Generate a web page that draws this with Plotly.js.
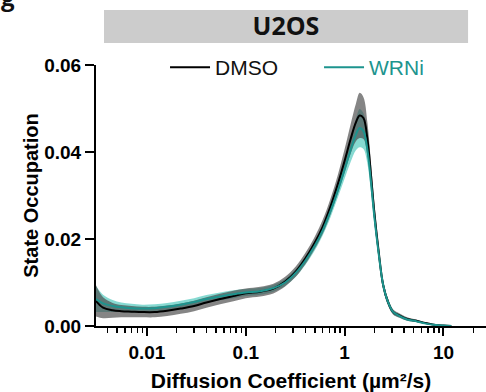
<!DOCTYPE html>
<html>
<head>
<meta charset="utf-8">
<script src="https://cdn.plot.ly/plotly-3.0.1.min.js"></script>
<style>html,body{margin:0;padding:0;background:#fff;}#chart{width:486px;height:392px;}</style>
</head>
<body>
<div id="chart"></div>
<script>
// Diffusion coefficient (µm²/s)
const diffCoef = [0.00305, 0.0036, 0.0045, 0.0055, 0.007, 0.009, 0.012, 0.016, 0.022, 0.03, 0.04, 0.055, 0.075, 0.1, 0.14, 0.19, 0.25, 0.32, 0.4, 0.5, 0.6, 0.72, 0.85, 1.0, 1.15, 1.3, 1.42, 1.55, 1.7, 1.85, 2.0, 2.2, 2.45, 2.75, 3.1, 3.6, 4.3, 5.3, 6.5, 8, 10, 12];
// DMSO mean and error half-width
const dmsoMean = [0.0058, 0.0042, 0.0036, 0.0034, 0.0033, 0.0032, 0.0032, 0.0035, 0.0040, 0.0046, 0.0054, 0.0062, 0.0069, 0.0075, 0.0079, 0.0086, 0.0102, 0.0125, 0.0155, 0.0192, 0.0228, 0.0275, 0.0325, 0.0380, 0.0430, 0.0468, 0.0484, 0.0478, 0.0430, 0.0345, 0.0260, 0.0175, 0.0095, 0.0055, 0.0032, 0.0024, 0.0016, 0.0012, 0.0007, 0.0003, 0.0001, 0.0];
const dmsoErr  = [0.0036, 0.0024, 0.0017, 0.0014, 0.0013, 0.0012, 0.0012, 0.0012, 0.0012, 0.0012, 0.0012, 0.0012, 0.0012, 0.0011, 0.0011, 0.0011, 0.0011, 0.0012, 0.0013, 0.0014, 0.0016, 0.0018, 0.0021, 0.0027, 0.0034, 0.0043, 0.0052, 0.0048, 0.0038, 0.0029, 0.0022, 0.0016, 0.0011, 0.0008, 0.0006, 0.0005, 0.0004, 0.0003, 0.0002, 0.0001, 0.0001, 0.0];
// WRNi mean and error half-width
const wrniMean = [0.0062, 0.0052, 0.0046, 0.0043, 0.0041, 0.0040, 0.0041, 0.0044, 0.0049, 0.0055, 0.0062, 0.0068, 0.0073, 0.0077, 0.0080, 0.0087, 0.0100, 0.0122, 0.0150, 0.0185, 0.0220, 0.0264, 0.0310, 0.0360, 0.0405, 0.0440, 0.0455, 0.0448, 0.0405, 0.0330, 0.0250, 0.0170, 0.0095, 0.0055, 0.0032, 0.0023, 0.0015, 0.0011, 0.0006, 0.0003, 0.0001, 0.0];
const wrniErr  = [0.0030, 0.0020, 0.0014, 0.0011, 0.0010, 0.0009, 0.0009, 0.0009, 0.0009, 0.0009, 0.0009, 0.0009, 0.0009, 0.0008, 0.0008, 0.0008, 0.0008, 0.0009, 0.0010, 0.0011, 0.0012, 0.0014, 0.0016, 0.0021, 0.0028, 0.0036, 0.0044, 0.0041, 0.0032, 0.0024, 0.0018, 0.0013, 0.0009, 0.0007, 0.0005, 0.0004, 0.0003, 0.0002, 0.0002, 0.0001, 0.0001, 0.0];
const seriesNames = ['DMSO', 'WRNi'];
const yTicks = [0, 0.02, 0.04, 0.06];
const yTickText = ['0.00', '0.02', '0.04', '0.06'];
const xTicks = [0.01, 0.1, 1, 10];
const xTickText = ['0.01', '0.1', '1', '10'];

const lower = (m, e) => m.map((v, i) => Math.max(0, v - e[i]));
const upper = (m, e) => m.map((v, i) => v + e[i]);

const TEAL = '#1d948e';
const traces = [
  {x: diffCoef, y: lower(wrniMean, wrniErr), mode: 'lines', line: {width: 0, shape: 'spline'}, showlegend: false, hoverinfo: 'skip'},
  {x: diffCoef, y: upper(wrniMean, wrniErr), mode: 'lines', line: {width: 0, shape: 'spline'}, fill: 'tonexty', fillcolor: 'rgba(95,205,195,0.75)', showlegend: false, hoverinfo: 'skip'},
  {x: diffCoef, y: lower(dmsoMean, dmsoErr), mode: 'lines', line: {width: 0, shape: 'spline'}, showlegend: false, hoverinfo: 'skip'},
  {x: diffCoef, y: upper(dmsoMean, dmsoErr), mode: 'lines', line: {width: 0, shape: 'spline'}, fill: 'tonexty', fillcolor: 'rgba(70,70,70,0.66)', showlegend: false, hoverinfo: 'skip'},
  {x: diffCoef, y: dmsoMean, mode: 'lines', name: seriesNames[0], line: {color: '#000', width: 2, shape: 'spline'}},
  {x: diffCoef, y: wrniMean, mode: 'lines', name: '<span style="color:' + TEAL + '">' + seriesNames[1] + '</span>', line: {color: TEAL, width: 2, shape: 'spline'}}
];

const layout = {
  width: 486, height: 392,
  margin: {l: 96, r: 0, t: 65, b: 66},
  paper_bgcolor: '#fff', plot_bgcolor: '#fff',
  font: {family: 'Liberation Sans, Arial, sans-serif', color: '#000'},
  title: {text: '<b>U2OS</b>', font: {family: 'Open Sans', size: 25, color: '#111'}, xref: 'paper', x: 0.487, xanchor: 'center', yref: 'container', y: 0.934, yanchor: 'middle'},
  showlegend: true,
  legend: {orientation: 'h', x: 0.177, xanchor: 'left', y: 0.99, yanchor: 'middle', font: {family: 'Liberation Sans, Arial', size: 21, color: '#111'}, bgcolor: 'rgba(0,0,0,0)', itemwidth: 40, entrywidth: 99, entrywidthmode: 'pixels', traceorder: 'normal'},
  xaxis: {
    type: 'log', range: [-2.515, 1.43], showgrid: false, zeroline: false,
    showline: true, linecolor: '#000', linewidth: 2,
    ticks: 'outside', ticklen: 8, tickwidth: 2, tickcolor: '#000',
    tickvals: xTicks, ticktext: xTickText,
    tickfont: {family: 'Liberation Sans, Arial', size: 19, color: '#000', weight: 'bold'},
    minor: {ticks: 'outside', ticklen: 5, tickwidth: 1.5, tickcolor: '#000', dtick: 'D1', showgrid: false},
    title: {text: '<b>Diffusion Coefficient (µm²/s)</b>', font: {family: 'Liberation Sans, Arial', size: 21, color: '#000'}, standoff: 12}
  },
  yaxis: {
    range: [0, 0.06], showgrid: false, zeroline: false,
    showline: true, linecolor: '#000', linewidth: 2,
    ticks: 'outside', ticklen: 9, tickwidth: 2, tickcolor: '#000',
    tickvals: yTicks, ticktext: yTickText,
    tickfont: {family: 'Liberation Sans, Arial', size: 19, color: '#000', weight: 'bold'},
    title: {text: '<b>State Occupation</b>', font: {family: 'Liberation Sans, Arial', size: 20, color: '#000'}, standoff: 0}
  },
  shapes: [
    {type: 'rect', xref: 'paper', yref: 'paper', x0: 0.0205, x1: 0.954, y0: 1.0843, y1: 1.2107, fillcolor: '#cccccc', line: {width: 0}, layer: 'below'}
  ],
  annotations: [
    {text: '<b>g</b>', xref: 'paper', yref: 'paper', x: -0.225, y: 1.262, xanchor: 'center', yanchor: 'middle', showarrow: false, font: {family: 'Open Sans', size: 24, color: '#111'}}
  ]
};

Plotly.newPlot('chart', traces, layout, {displayModeBar: false, staticPlot: true});
</script>
</body>
</html>
